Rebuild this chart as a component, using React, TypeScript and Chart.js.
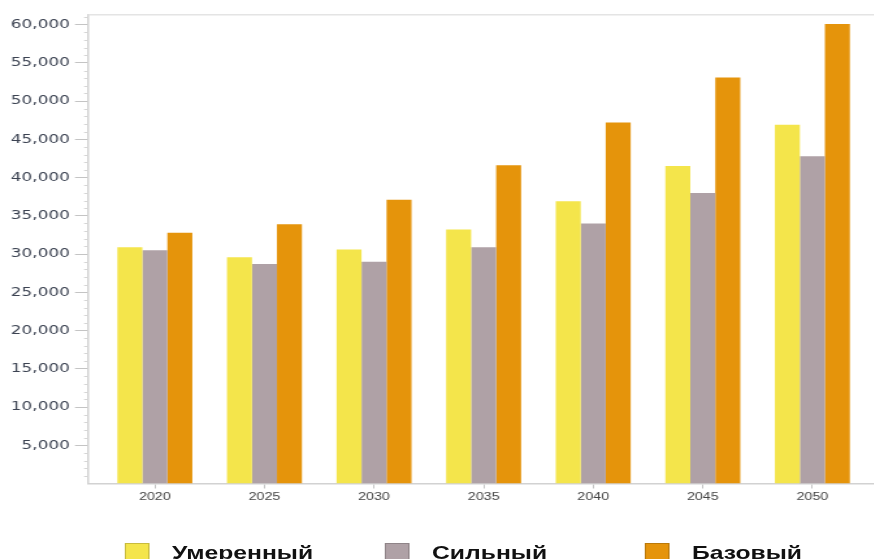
import React, { useEffect, useRef } from "react";
import { Chart, registerables } from "chart.js";

Chart.register(...registerables);

const years = [2020, 2025, 2030, 2035, 2040, 2045, 2050];
const moderate = [30900, 29600, 30600, 33200, 36900, 41500, 46900];
const strong = [30500, 28700, 29000, 30900, 34000, 38000, 42800];
const base = [32800, 33900, 37100, 41600, 47200, 53100, 60100];
const seriesNames = ["Умеренный", "Сильный", "Базовый"];
const seriesColors = ["#F4E54B", "#AFA1A6", "#E5940B"];

const yMax = 61300;
const yMajorStep = 5000;
const yMinorStep = 1000;
const xMin = 2016.95;
const xMax = 2055.64;

const SX = 1.3; // horizontal stretch of the reference
const CANVAS_W = 720;
const CANVAS_H = 520;
const PLOT_LEFT = 67.7;
const PLOT_TOP = 14.7;
const PLOT_BOTTOM = 483.5;

const axisColor = "#d2d2d2";

const framePlugin = {
  id: "frame",
  afterDraw(chart: any) {
    const { ctx, chartArea } = chart;
    const y = chart.scales.y;
    ctx.save();
    ctx.strokeStyle = "#e4e4e4";
    ctx.lineWidth = 1.5;
    ctx.beginPath();
    ctx.moveTo(chartArea.left, chartArea.top);
    ctx.lineTo(chartArea.right, chartArea.top);
    ctx.stroke();
    ctx.strokeStyle = "#d6d6d6";
    ctx.lineWidth = 1;
    y.ticks.forEach((t: any) => {
      if (t.value % yMajorStep !== 0) {
        const py = Math.round(y.getPixelForValue(t.value)) + 0.5;
        ctx.beginPath();
        ctx.moveTo(chartArea.left - 3, py);
        ctx.lineTo(chartArea.left, py);
        ctx.stroke();
      }
    });
    ctx.restore();
  },
};

export default function App() {
  const ref = useRef<HTMLCanvasElement>(null);

  useEffect(() => {
    const canvas = ref.current!;
    const values = [moderate, strong, base];
    const chart = new Chart(canvas, {
      type: "bar",
      data: {
        datasets: values.map((vals, k) => ({
          label: seriesNames[k],
          data: years.map((yr, i) => ({ x: yr, y: vals[i] })),
          backgroundColor: seriesColors[k],
          borderWidth: 0,
          categoryPercentage: 0.684,
          barPercentage: 1,
        })),
      },
      options: {
        animation: false,
        responsive: false,
        devicePixelRatio: 1,
        layout: { padding: { top: PLOT_TOP, left: 0, right: 0, bottom: 0 } },
        plugins: { legend: { display: false }, tooltip: { enabled: false } },
        scales: {
          x: {
            type: "linear",
            min: xMin,
            max: xMax,
            bounds: "data",
            offset: false,
            afterBuildTicks: (scale: any) => {
              scale.ticks = years.map((v) => ({ value: v }));
            },
            afterFit: (scale: any) => {
              scale.height = CANVAS_H - PLOT_BOTTOM;
            },
            border: { display: true, color: axisColor, width: 1.5 },
            grid: {
              offset: false,
              drawOnChartArea: false,
              drawTicks: true,
              tickLength: 5,
              tickColor: "#c4c4c4",
            },
            ticks: {
              padding: 2,
              color: "#444444",
              font: { family: "'Liberation Sans', Arial, sans-serif", size: 11 },
              callback: (v: any) => String(v),
              maxRotation: 0,
              autoSkip: false,
            },
          },
          y: {
            type: "linear",
            min: 0,
            max: yMax,
            bounds: "data",
            afterBuildTicks: (scale: any) => {
              const t: any[] = [];
              for (let v = yMinorStep; v <= yMax; v += yMinorStep) t.push({ value: v });
              scale.ticks = t;
            },
            afterFit: (scale: any) => {
              scale.width = PLOT_LEFT;
            },
            border: { display: true, color: axisColor, width: 1.5 },
            grid: {
              drawOnChartArea: false,
              drawTicks: true,
              tickLength: 10,
              tickColor: (c: any) =>
                c.tick && c.tick.value % yMajorStep === 0 ? "#c4c4c4" : "rgba(0,0,0,0)",
            },
            ticks: {
              padding: 4,
              color: "#3c4352",
              font: { family: "'DejaVu Sans', Verdana, sans-serif", size: 13 },
              autoSkip: false,
              callback: (v: any) =>
                Number(v) % yMajorStep === 0 ? Number(v).toLocaleString("en-US") : "",
            },
          },
        },
      },
      plugins: [framePlugin],
    });
    return () => chart.destroy();
  }, []);

  const colW = 260 / SX;
  const legendLeft = 125 / SX;

  return (
    <div
      style={{
        position: "fixed",
        left: 0,
        top: 0,
        width: 874,
        height: 559,
        overflow: "hidden",
        background: "#ffffff",
      }}
    >
      <div
        style={{
          position: "relative",
          width: CANVAS_W,
          height: 600,
          transform: `scaleX(${SX})`,
          transformOrigin: "0 0",
        }}
      >
        <canvas
          ref={ref}
          width={CANVAS_W}
          height={CANVAS_H}
          style={{ display: "block", width: CANVAS_W, height: CANVAS_H }}
        />
        <div style={{ position: "absolute", top: 543, left: legendLeft, display: "flex" }}>
          {seriesNames.map((name, k) => (
            <div key={name} style={{ width: colW, display: "flex", alignItems: "flex-start" }}>
              <div
                style={{
                  width: 19.2,
                  height: 18,
                  boxSizing: "border-box",
                  background: seriesColors[k],
                  border: "1px solid rgba(0,0,0,0.18)",
                  marginRight: 17,
                  flex: "none",
                }}
              />
              <span
                style={{
                  fontFamily: "'Liberation Sans', Arial, sans-serif",
                  fontWeight: "bold",
                  fontSize: 19,
                  lineHeight: "19px",
                  color: "#111111",
                  whiteSpace: "nowrap",
                }}
              >
                {name}
              </span>
            </div>
          ))}
        </div>
      </div>
    </div>
  );
}
